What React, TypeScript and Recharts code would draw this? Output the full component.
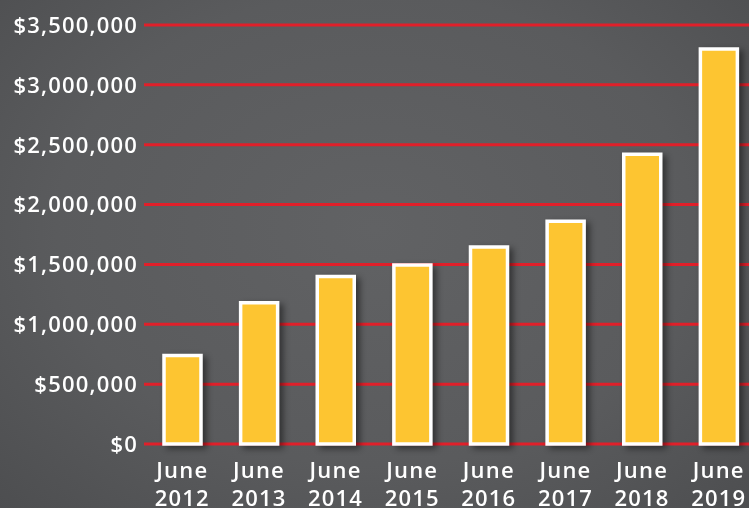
import React from "react";
import { BarChart, Bar, XAxis, YAxis, CartesianGrid } from "recharts";

const years = ["2012", "2013", "2014", "2015", "2016", "2017", "2018", "2019"];
const revenue = [740000, 1180000, 1400000, 1495000, 1645000, 1860000, 2420000, 3300000];
const yTicks = [0, 500000, 1000000, 1500000, 2000000, 2500000, 3000000, 3500000];

const data = years.map((y, i) => ({ year: y, value: revenue[i] }));

const FONT = "'Open Sans', Lato, sans-serif";

const fmt = (v: number) => "$" + v.toLocaleString("en-US");

function XTick(props: any) {
  const { x, y, payload } = props;
  return (
    <text
      x={x}
      y={y}
      textAnchor="middle"
      fill="#ffffff"
      fontFamily={FONT}
      fontWeight={600}
      fontSize={22}
      letterSpacing={1.2}
    >
      <tspan x={x} dy={26}>June</tspan>
      <tspan x={x} dy={28}>{payload.value}</tspan>
    </text>
  );
}

export default function App() {
  return (
    <div
      style={{
        position: "fixed",
        left: 0,
        top: 0,
        width: 749,
        height: 508,
        overflow: "hidden",
        background: "radial-gradient(ellipse at 50% 45%, #616264 0%, #5a5b5d 60%, #4d4e50 100%)",
      }}
    >
      <BarChart
        width={757}
        height={508}
        data={data}
        margin={{ top: 25, right: 0, bottom: 0, left: 0 }}
        barCategoryGap={0}
      >
        <CartesianGrid vertical={false} stroke="#e0202a" strokeWidth={3} />
        <XAxis
          dataKey="year"
          axisLine={false}
          tickLine={false}
          height={64}
          interval={0}
          tick={<XTick />}
        />
        <YAxis
          domain={[0, 3500000]}
          ticks={yTicks}
          tickFormatter={fmt}
          axisLine={false}
          tickLine={false}
          tickSize={0}
          tickMargin={6}
          width={144}
          tick={{ fill: "#ffffff", fontFamily: FONT, fontWeight: 600, fontSize: 22, letterSpacing: 1.2 }}
        />
        <Bar
          dataKey="value"
          fill="#fdc531"
          stroke="#ffffff"
          strokeWidth={3.5}
          barSize={37}
          isAnimationActive={false}
          style={{ filter: "drop-shadow(4px 3px 3px rgba(0,0,0,0.45))" }}
        />
      </BarChart>
    </div>
  );
}
